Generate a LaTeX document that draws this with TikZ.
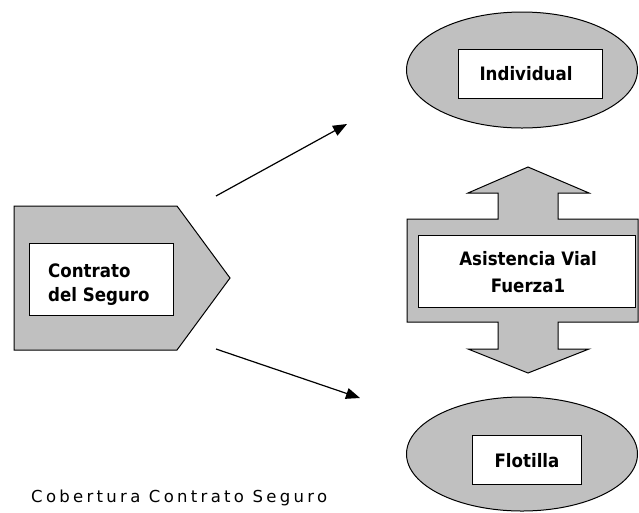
\documentclass[tikz,border=0pt]{standalone}
\usepackage{fontspec}
\setmainfont[FakeStretch=0.9]{DejaVu Sans}
\newfontfamily\capfont[LetterSpace=20]{DejaVu Sans}
\usetikzlibrary{shapes.geometric,arrows.meta}
\definecolor{shapegray}{HTML}{C0C0C0}
\tikzset{
  shapefill/.style={draw=black, fill=shapegray, line width=1pt, line join=miter},
  labelbox/.style={draw=black, fill=white, line width=1pt, inner sep=0pt},
  labeltext/.style={font=\bfseries\fontsize{18.5}{25}\selectfont, inner sep=0pt},
  connector/.style={line width=1.2pt, -{Triangle[length=14pt,width=11pt]}},
  oval/.style={shapefill, ellipse, inner sep=0pt}
}
\begin{document}
\begin{tikzpicture}[x=1pt,y=-1pt]
\useasboundingbox (0,0) rectangle (639,512);
% pentagon
\path[shapefill] (14,206) -- (177,206) -- (230,278) -- (177,350) -- (14,350) -- cycle;
\coordinate (pentTip) at (230,278);
\node[labelbox, minimum width=144pt, minimum height=72pt] (contratoBox) at (101,279) {};
\node[labeltext, anchor=base west, align=left, font=\bfseries\fontsize{18.5}{24}\selectfont] (contratoTxt) at (48,301) {Contrato\\del Seguro};
% ellipses
\node[oval, minimum width=231pt, minimum height=116pt] (indE) at (522,70) {};
\node[labelbox, minimum width=144pt, minimum height=49pt] (indBox) at (530,73.5) {};
\node[labeltext, anchor=base] (indTxt) at (526,80) {Individual};
\node[oval, minimum width=231pt, minimum height=114pt] (floE) at (522,454) {};
\node[labelbox, minimum width=109pt, minimum height=49pt] (floBox) at (526.5,459.5) {};
\node[labeltext, anchor=base] (floTxt) at (527,467) {Flotilla};
% double arrow
\path[shapefill] (528,167) -- (589,193) -- (558,193) -- (558,219) -- (638,219) -- (638,322)
  -- (558,322) -- (558,349) -- (589,349) -- (528,373) -- (468,349) -- (498,349) -- (498,322)
  -- (407,322) -- (407,219) -- (498,219) -- (498,193) -- (468,193) -- cycle;
\node[labelbox, minimum width=217pt, minimum height=72pt] (asisBox) at (526.5,271) {};
\node[labeltext, anchor=base, align=center, font=\bfseries\fontsize{18.5}{27}\selectfont] (asisTxt) at (528,292) {Asistencia Vial\\Fuerza1};
% connectors
\coordinate (upStart) at (216,196);
\coordinate (upEnd) at (347,124);
\coordinate (dnStart) at (216,349);
\coordinate (dnEnd) at (360,398);
\draw[connector] (upStart) -- (upEnd);
\draw[connector] (dnStart) -- (dnEnd);
% caption
\node[anchor=base west, inner sep=0pt, font=\capfont\fontsize{16.5}{19}\selectfont] (caption) at (31,502) {Cobertura Contrato Seguro};
\end{tikzpicture}
\end{document}
